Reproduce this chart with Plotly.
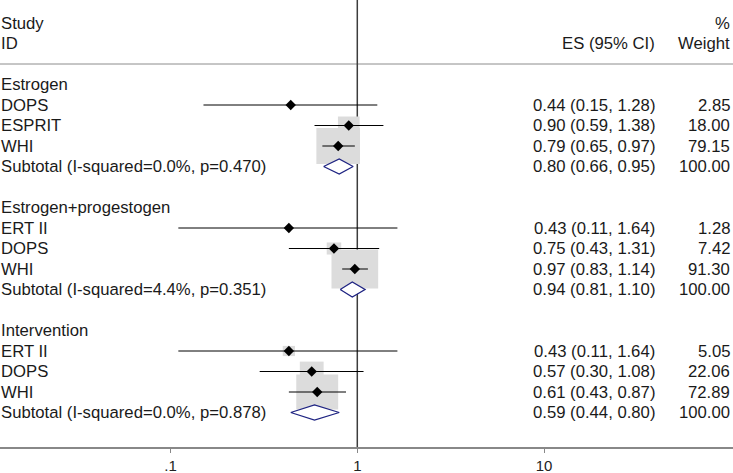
import math
import plotly.graph_objects as go

# ---------------- data ----------------
group_names = ["Estrogen", "Estrogen+progestogen", "Intervention"]
study_labels = [["DOPS", "ESPRIT", "WHI"],
                ["ERT II", "DOPS", "WHI"],
                ["ERT II", "DOPS", "WHI"]]
es_values = [[0.44, 0.90, 0.79],
             [0.43, 0.75, 0.97],
             [0.43, 0.57, 0.61]]
ci_lower = [[0.15, 0.59, 0.65],
            [0.11, 0.43, 0.83],
            [0.11, 0.30, 0.43]]
ci_upper = [[1.28, 1.38, 0.97],
            [1.64, 1.31, 1.14],
            [1.64, 1.08, 0.87]]
weights = [[2.85, 18.00, 79.15],
           [1.28, 7.42, 91.30],
           [5.05, 22.06, 72.89]]
subtotal_labels = ["Subtotal (I-squared=0.0%, p=0.470)",
                   "Subtotal (I-squared=4.4%, p=0.351)",
                   "Subtotal (I-squared=0.0%, p=0.878)"]
subtotal_es = [0.80, 0.94, 0.59]
subtotal_lower = [0.66, 0.81, 0.44]
subtotal_upper = [0.95, 1.10, 0.80]
subtotal_weight = [100.00, 100.00, 100.00]
tick_values = [0.1, 1, 10]
tick_labels = [".1", "1", "10"]

# ---------------- styling / layout constants ----------------
W, H = 733, 473
PX_PER_DECADE = 186.7
PX_PER_ROW = 20.5
FONT = "Arial, 'Liberation Sans', sans-serif"
TXT = dict(family=FONT, size=16.7, color="#1a1a1a")
BOX_COLOR = "rgb(220,220,220)"
DIAMOND_COLOR = "rgb(30,35,130)"

fig = go.Figure()

# null line at 1
fig.add_trace(go.Scatter(x=[1, 1], y=[-1.3, 20.7], mode="lines",
                         line=dict(color="#3c3c3c", width=1.5),
                         hoverinfo="skip", showlegend=False))

annotations = []


def add_text(text, row, x, anchor):
    annotations.append(dict(text=text, x=x, xref="paper", y=row, yref="y",
                            xanchor=anchor, yanchor="middle", showarrow=False,
                            font=TXT, borderpad=0))


# header
add_text("Study", 0, 0.0, "left")
add_text("ID", 1, 0.0, "left")
add_text("%", 0, 0.997, "right")
add_text("ES (95% CI)", 1, 0.895, "right")
add_text("Weight", 1, 0.997, "right")

row = 3
for g in range(len(group_names)):
    add_text(group_names[g], row, 0.0, "left")
    row += 1
    for i in range(len(study_labels[g])):
        e, lo, hi, w = es_values[g][i], ci_lower[g][i], ci_upper[g][i], weights[g][i]
        add_text(study_labels[g][i], row, 0.0, "left")
        add_text(f"{e:.2f} ({lo:.2f}, {hi:.2f})", row, 0.895, "right")
        add_text(f"{w:.2f}", row, 0.997, "right")
        # weight box
        if w >= 3:
            bw = 1.7 + 4.71 * math.sqrt(w)
            bh = 0.83 * bw
            fx = 10 ** (bw / 2 / PX_PER_DECADE)
            dy = bh / 2 / PX_PER_ROW
            fig.add_trace(go.Scatter(
                x=[e / fx, e * fx, e * fx, e / fx, e / fx],
                y=[row - dy, row - dy, row + dy, row + dy, row - dy],
                mode="lines", fill="toself", fillcolor=BOX_COLOR,
                line=dict(width=0, color=BOX_COLOR),
                hoverinfo="skip", showlegend=False))
        row += 1
    add_text(subtotal_labels[g], row, 0.0, "left")
    add_text(f"{subtotal_es[g]:.2f} ({subtotal_lower[g]:.2f}, {subtotal_upper[g]:.2f})",
             row, 0.895, "right")
    add_text(f"{subtotal_weight[g]:.2f}", row, 0.997, "right")
    row += 2

# CI lines and point markers
row = 3
ci_x, ci_y, pt_x, pt_y = [], [], [], []
dia_rows = []
for g in range(len(group_names)):
    row += 1
    for i in range(len(study_labels[g])):
        ci_x += [ci_lower[g][i], ci_upper[g][i], None]
        ci_y += [row, row, None]
        pt_x.append(es_values[g][i])
        pt_y.append(row)
        row += 1
    dia_rows.append(row)
    row += 2

fig.add_trace(go.Scatter(x=ci_x, y=ci_y, mode="lines",
                         line=dict(color="black", width=1),
                         hoverinfo="skip", showlegend=False))
fig.add_trace(go.Scatter(x=pt_x, y=pt_y, mode="markers",
                         marker=dict(symbol="diamond", size=8, color="black"),
                         hoverinfo="skip", showlegend=False))

half_h = 7.5 / PX_PER_ROW
for g, r in enumerate(dia_rows):
    fig.add_trace(go.Scatter(
        x=[subtotal_lower[g], subtotal_es[g], subtotal_upper[g], subtotal_es[g], subtotal_lower[g]],
        y=[r, r - half_h, r, r + half_h, r],
        mode="lines", fill="toself", fillcolor="white",
        line=dict(color=DIAMOND_COLOR, width=1.3),
        hoverinfo="skip", showlegend=False))

left_log = -357.3 / PX_PER_DECADE
right_log = (W - 357.3) / PX_PER_DECADE
top_row = -23 / PX_PER_ROW
bottom_row = (447 - 23) / PX_PER_ROW

fig.update_layout(
    width=W, height=H,
    margin=dict(l=0, r=0, t=0, b=H - 447, pad=0),
    paper_bgcolor="white", plot_bgcolor="white",
    showlegend=False,
    annotations=annotations,
    shapes=[dict(type="line", xref="paper", yref="y", x0=0, x1=1, y0=2, y1=2,
                 line=dict(color="#8c8c8c", width=1), layer="below")],
    xaxis=dict(type="log", range=[left_log, right_log],
               tickvals=tick_values, ticktext=tick_labels,
               ticks="outside", ticklen=4, tickwidth=1, tickcolor="#888888",
               showline=True, linecolor="#888888", linewidth=1.5,
               showgrid=False, zeroline=False,
               tickfont=dict(family=FONT, size=15, color="#222222")),
    yaxis=dict(range=[bottom_row, top_row], visible=False,
               showgrid=False, zeroline=False),
)

fig.write_html("out.html",
               config={"displayModeBar": False},
               post_script="document.body.style.margin='0px';document.body.style.overflow='hidden';")
